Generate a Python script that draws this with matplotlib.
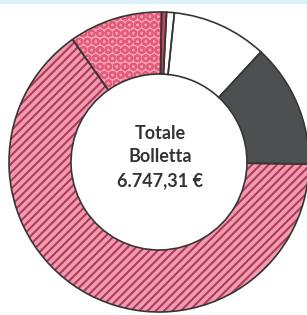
import matplotlib
matplotlib.use("Agg")
import matplotlib.pyplot as plt

# voci della bolletta (euro), in ordine orario partendo dall'alto
voci = ["Imposte", "Altro", "Trasporto", "Oneri di sistema", "Materia energia", "IVA"]
importi = [35.60, 56.20, 691.60, 899.60, 4385.80, 678.51]
colori = ["#cc4362", "#ffffff", "#ffffff", "#4d4f51", "#f29aae", "#f6a3b6"]
tratteggi = ["", "", "", "", "////", "OO"]
colori_tratteggio = ["#cc4362", "#ffffff", "#ffffff", "#4d4f51", "#ae3a5e", "#e65a7b"]
totale_label = "Totale\nBolletta\n6.747,31 €"

plt.rcParams["hatch.linewidth"] = 1.5

fig = plt.figure(figsize=(3.07, 3.15), dpi=100)
ax = fig.add_axes([0, 0, 1, 1])

cx, cy, R, W = 159, 153, 150, 62

wedges, _ = ax.pie(importi, radius=R, center=(cx, cy), startangle=89.0,
                   counterclock=False, colors=colori, frame=True,
                   wedgeprops=dict(width=W, linewidth=0))
for w, h, hc in zip(wedges, tratteggi, colori_tratteggio):
    w.set_hatch(h)
    w.set_edgecolor(hc)
    w.set_linewidth(0)

# contorni
ax.pie(importi, radius=R, center=(cx, cy), startangle=89.0,
       counterclock=False, frame=True,
       wedgeprops=dict(width=W, fill=False, edgecolor="#363636", linewidth=1.2))

ax.axhspan(312, 315, color="#dcf0fa", zorder=0)

ax.text(cx + 1, cy + 5, totale_label, ha="center", va="center",
        fontsize=13, fontweight="bold", family=["Lato", "DejaVu Sans"],
        color="#333333", linespacing=1.45)

ax.set_xlim(0, 307)
ax.set_ylim(0, 315)
ax.set_aspect("equal")
ax.axis("off")

fig.savefig("out.png", dpi=100)
